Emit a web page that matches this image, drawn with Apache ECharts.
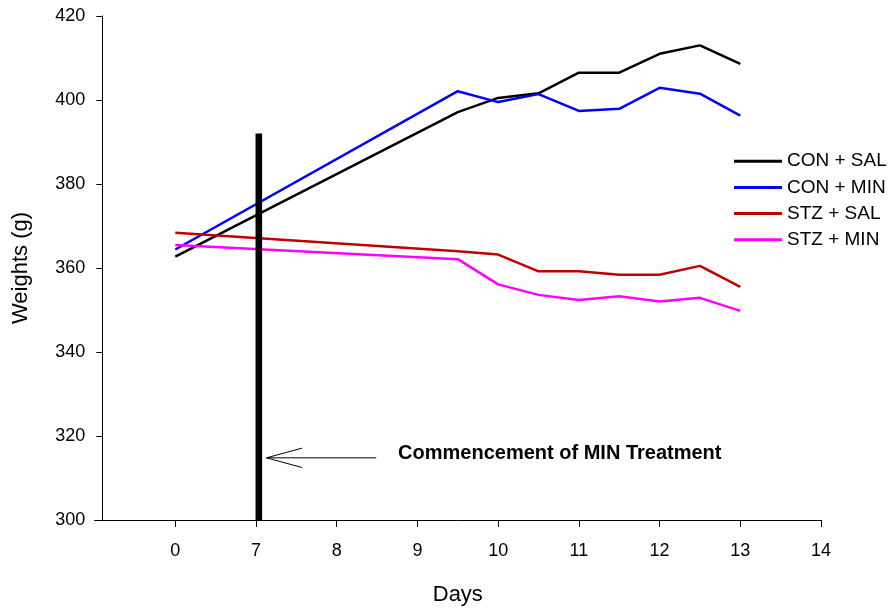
<!DOCTYPE html>
<html>
<head>
<meta charset="utf-8">
<script src="https://cdn.jsdelivr.net/npm/echarts@6/dist/echarts.min.js"></script>
<style>
  html, body { margin: 0; padding: 0; background: #fff; }
  #chart { width: 894px; height: 608px; }
</style>
</head>
<body>
<div id="chart"></div>
<script>
// Body weight (g) by day for the four treatment groups
const days   = [0, 9.5, 10, 10.5, 11, 11.5, 12, 12.5, 13];
const conSal = [362.7, 397.1, 400.5, 401.6, 406.5, 406.5, 411.0, 413.0, 408.6];
const conMin = [364.4, 402.1, 399.5, 401.4, 397.4, 397.9, 402.9, 401.5, 396.3];
const stzSal = [368.4, 364.0, 363.2, 359.2, 359.2, 358.4, 358.4, 360.5, 355.5];
const stzMin = [365.5, 362.1, 356.1, 353.6, 352.4, 353.3, 352.0, 352.9, 349.8];

const seriesNames = ['CON + SAL', 'CON + MIN', 'STZ + SAL', 'STZ + MIN'];
const seriesColors = ['#000000', '#0000ff', '#c00000', '#ff00ff'];

// Day labels on the x axis (day 0, then days 7..14 evenly spaced)
const tickDays = [0, 7, 8, 9, 10, 11, 12, 13, 14];

// Treatment start marker and its annotation
const treatmentDay = 7;
const treatmentTop = 392;
const arrowTailDay = 8.49;
const arrowHeadDay = 7.13;
const arrowWeight = 314.8;
const noteDay = 8.76;
const noteWeight = 315.9;
const noteText = 'Commencement of MIN Treatment';

// The axis is broken between day 0 and day 7: one slot each.
function dayToPos(d) { return d >= 7 ? d - 6 : d / 7; }
function posToDay(p) { return p >= 1 ? p + 6 : p * 7; }

const groups = [conSal, conMin, stzSal, stzMin];
const FONT = 'Liberation Sans, Arial, sans-serif';

const lineSeries = groups.map((vals, i) => ({
  name: seriesNames[i],
  type: 'line',
  data: days.map((d, j) => [dayToPos(d), vals[j]]),
  symbol: 'none',
  lineStyle: { color: seriesColors[i], width: 2.5 },
  itemStyle: { color: seriesColors[i] },
  z: 3
}));

const chart = echarts.init(document.getElementById('chart'), null, { renderer: 'canvas' });

chart.setOption({
  animation: false,
  backgroundColor: '#ffffff',
  grid: { left: 94.6, top: 16, width: 726.4, height: 504, containLabel: false, outerBoundsMode: 'none' },
  legend: {
    data: seriesNames.map(n => ({ name: n, icon: 'rect' })),
    orient: 'vertical',
    left: 729,
    top: 146.2,
    itemWidth: 48,
    itemHeight: 3,
    itemGap: 6.2,
    textStyle: { fontFamily: FONT, fontSize: 19, color: '#000', lineHeight: 20 },
    selectedMode: false
  },
  xAxis: {
    type: 'value',
    min: -1,
    max: 8,
    interval: 1,
    name: 'Days',
    nameLocation: 'middle',
    nameGap: 64,
    nameTextStyle: { fontFamily: FONT, fontSize: 22, color: '#000' },
    axisLine: { show: true, onZero: false, lineStyle: { color: '#000', width: 1 } },
    axisTick: {
      show: true, length: 7, inside: false,
      customValues: tickDays.map(dayToPos),
      lineStyle: { color: '#000', width: 1 }
    },
    axisLabel: {
      customValues: tickDays.map(dayToPos),
      formatter: v => String(posToDay(v)),
      margin: 22,
      fontFamily: FONT, fontSize: 18, color: '#000'
    },
    splitLine: { show: false }
  },
  yAxis: {
    type: 'value',
    min: 300,
    max: 420,
    interval: 20,
    offset: -7.7,
    name: 'Weights (g)',
    nameLocation: 'middle',
    nameGap: 70,
    nameRotate: 90,
    nameTextStyle: { fontFamily: FONT, fontSize: 22, color: '#000' },
    axisLine: { show: true, onZero: false, lineStyle: { color: '#000', width: 1 } },
    axisTick: { show: true, length: 6, inside: false, lineStyle: { color: '#000', width: 1 } },
    axisLabel: { margin: 17, fontFamily: FONT, fontSize: 18, color: '#000' },
    splitLine: { show: false }
  },
  series: lineSeries.concat([
    {
      // thick vertical marker at the start of treatment
      type: 'custom',
      name: 'treatment',
      data: [[dayToPos(treatmentDay), treatmentTop, 300]],
      encode: { x: 0, y: [1, 2] },
      renderItem: (params, api) => {
        const top = api.coord([api.value(0), api.value(1)]);
        const bot = api.coord([api.value(0), api.value(2)]);
        return {
          type: 'rect',
          shape: { x: top[0] - 0.5, y: top[1], width: 6.6, height: bot[1] - top[1] },
          style: { fill: '#000' }
        };
      },
      z: 4
    },
    {
      // open arrow pointing back at the marker, with its note
      type: 'custom',
      name: 'note',
      data: [[dayToPos(arrowTailDay), dayToPos(arrowHeadDay), arrowWeight, dayToPos(noteDay), noteWeight]],
      encode: { x: [0, 1], y: 2 },
      renderItem: (params, api) => {
        const tail = api.coord([api.value(0), api.value(2)]);
        const head = api.coord([api.value(1), api.value(2)]);
        const note = api.coord([api.value(3), api.value(4)]);
        const hl = 35.6, hw = 9.7;
        return {
          type: 'group',
          children: [
            { type: 'line', shape: { x1: tail[0], y1: tail[1], x2: head[0], y2: head[1] },
              style: { stroke: '#000', lineWidth: 1 } },
            { type: 'polyline', shape: { points: [[head[0] + hl, head[1] - hw], [head[0], head[1]], [head[0] + hl, head[1] + hw]] },
              style: { stroke: '#000', lineWidth: 1, fill: null } },
            { type: 'text', x: note[0], y: note[1],
              style: { text: noteText, fontFamily: FONT, fontWeight: 'bold', fontSize: 20,
                       fill: '#000', align: 'left', verticalAlign: 'middle' } }
          ]
        };
      },
      z: 4
    }
  ])
});
</script>
</body>
</html>
